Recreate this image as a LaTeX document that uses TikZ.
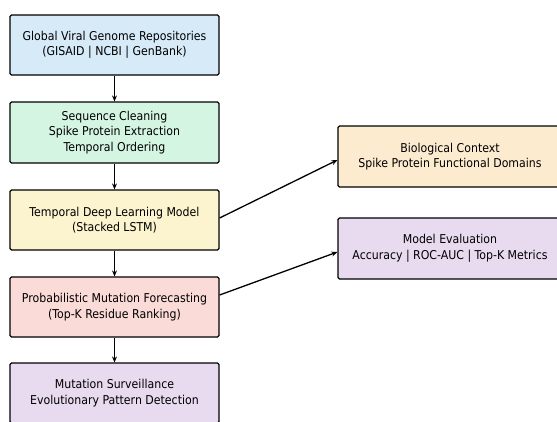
\documentclass[tikz,border=0pt]{standalone}
\usepackage{fontspec}
\setmainfont{DejaVu Sans Condensed}
\usepackage{tikz}
\usetikzlibrary{arrows.meta}

\definecolor{boxblue}{HTML}{D6EAF8}
\definecolor{boxgreen}{HTML}{D5F5E3}
\definecolor{boxyellow}{HTML}{FCF3CF}
\definecolor{boxred}{HTML}{FADBD8}
\definecolor{boxpurple}{HTML}{E8DAEF}
\definecolor{boxorange}{HTML}{FDEBD0}

\tikzset{
  stagebox/.style={draw=black, line width=1.2pt, rounded corners=1.5pt, align=center,
    minimum width=209pt, minimum height=60pt, inner sep=0pt,
    font=\fontsize{12.2}{15.5}\selectfont},
  sidebox/.style={stagebox, minimum width=224pt, minimum height=61pt},
  flow/.style={-{Stealth[length=6pt,width=5pt]}, line width=1.3pt, black}
}

\begin{document}
\begin{tikzpicture}[x=1pt, y=-1pt]
                \useasboundingbox (0,0) rectangle (557,421);
                \begin{scope}
                \clip (0,0) rectangle (557,421);
                % main pipeline
                \node[stagebox, fill=boxblue] (repo) at (114.5,45) {Global Viral Genome Repositories\\(GISAID | NCBI | GenBank)};
                \node[stagebox, fill=boxgreen, minimum height=61pt] (clean) at (114.5,132.5) {Sequence Cleaning\\Spike Protein Extraction\\Temporal Ordering};
                \node[stagebox, fill=boxyellow] (lstm) at (114.5,220) {Temporal Deep Learning Model\\(Stacked LSTM)};
                \node[stagebox, fill=boxred] (forecast) at (114.5,307) {Probabilistic Mutation Forecasting\\(Top-K Residue Ranking)};
                \node[stagebox, fill=boxpurple] (surv) at (114.5,393) {Mutation Surveillance\\Evolutionary Pattern Detection};
                % side boxes
                \node[sidebox, fill=boxorange] (bio) at (450,156.5) {Biological Context\\Spike Protein Functional Domains};
                \node[sidebox, fill=boxpurple] (eval) at (450,248.5) {Model Evaluation\\Accuracy | ROC-AUC | Top-K Metrics};
                \end{scope}
                \draw[flow] (repo) -- (clean);
                \draw[flow] (clean) -- (lstm);
                \draw[flow] (lstm) -- (forecast);
                \draw[flow] (forecast) -- (surv);
                \draw[flow] ([yshift=2pt]lstm.east) -- ([yshift=-3.5pt]bio.west);
                \draw[flow] ([yshift=12pt]forecast.east) -- ([yshift=-3.5pt]eval.west);
            \end{tikzpicture}
\end{document}
